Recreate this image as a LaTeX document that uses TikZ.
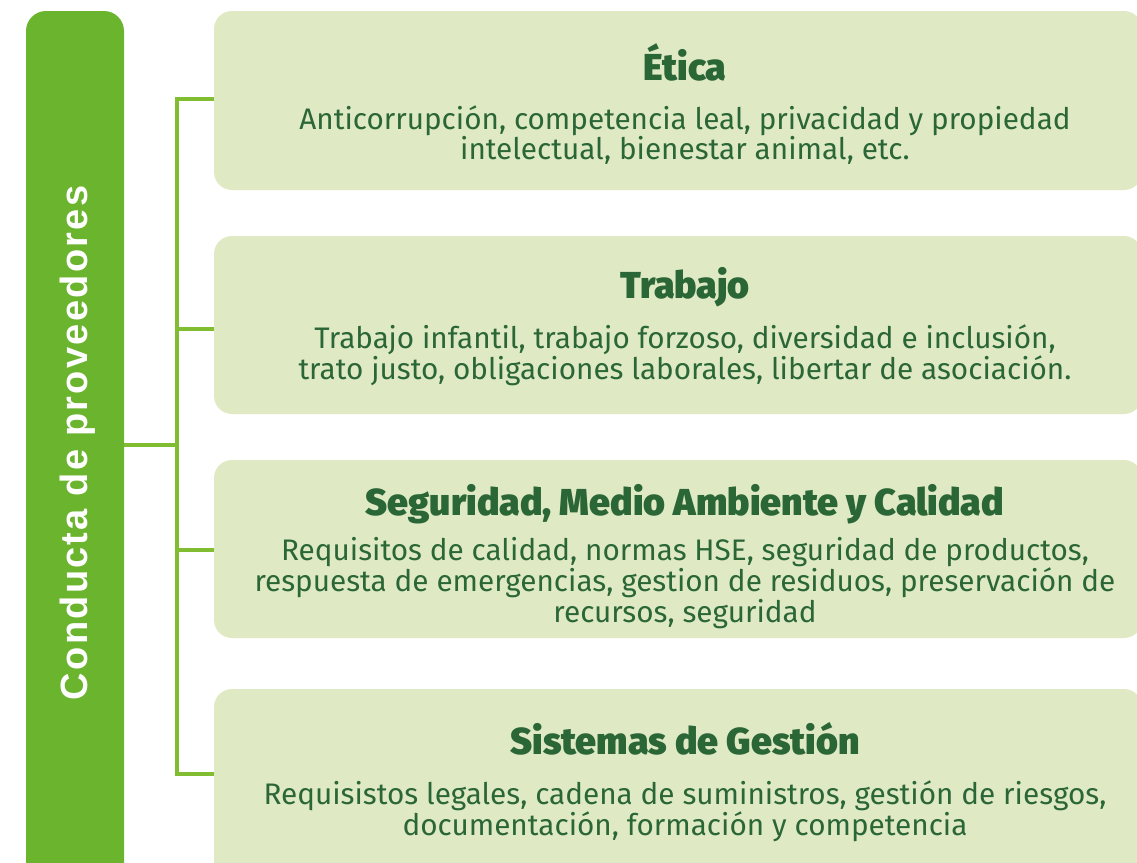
\documentclass[tikz,border=0pt]{standalone}
\usepackage{fontspec}
\setmainfont{Fira Sans}
\newfontfamily\bodyfont{Fira Sans}
\newfontfamily\titlefont{Fira Sans Black}
\newfontfamily\barfont{Liberation Sans}[LetterSpace=6]
\definecolor{bargreen}{HTML}{6AB42E}
\definecolor{linegreen}{HTML}{80BD30}
\definecolor{boxfill}{HTML}{DFEAC5}
\definecolor{textgreen}{HTML}{2B6637}
\tikzset{
  boxshape/.style={fill=boxfill, rounded corners=18pt, draw=none},
  conn/.style={draw=linegreen, line width=4pt},
  titletext/.style={anchor=base, text=textgreen, font=\titlefont\fontsize{37.5}{40}\selectfont, inner sep=0pt},
  bodytext/.style={anchor=center, text=textgreen, align=center, font=\bodyfont\fontsize{29.7}{29}\selectfont, inner sep=0pt},
}
\begin{document}
\begin{tikzpicture}[x=1pt,y=-1pt]
\useasboundingbox (0,0) rectangle (1137,862);
% left bar
\path[fill=bargreen, rounded corners=20pt] (26,11) rectangle (124,885);
\node (bar) at (75,11) [minimum width=98pt, minimum height=874pt, anchor=north, inner sep=0pt] {};
\node (bartext) at (78,443) [rotate=90, text=white, font=\barfont\bfseries\fontsize{38}{40}\selectfont, inner sep=0pt] {Conducta de proveedores};
% boxes
\path[boxshape] (214,11) rectangle (1142,190);
\path[boxshape] (214,236) rectangle (1142,414);
\path[boxshape] (214,460) rectangle (1142,638);
\path[boxshape] (214,689) rectangle (1142,900);
\node (box1) at (214,11) [anchor=north west, minimum width=928pt, minimum height=179pt, inner sep=0pt] {};
\node (box2) at (214,236) [anchor=north west, minimum width=928pt, minimum height=178pt, inner sep=0pt] {};
\node (box3) at (214,460) [anchor=north west, minimum width=928pt, minimum height=178pt, inner sep=0pt] {};
\node (box4) at (214,689) [anchor=north west, minimum width=928pt, minimum height=211pt, inner sep=0pt] {};
% texts
\node (t1) at (685,80) [titletext] {Ética};
\node (d1) at (685,135) [bodytext] {Anticorrupción, competencia leal, privacidad y propiedad\\intelectual, bienestar animal, etc.};
\node (t2) at (685,298) [titletext] {Trabajo};
\node (d2) at (685,355) [bodytext] {Trabajo infantil, trabajo forzoso, diversidad e inclusión,\\trato justo, obligaciones laborales, libertar de asociación.};
\node (t3) at (685,515) [titletext] {Seguridad, Medio Ambiente y Calidad};
\node (d3) at (685,583) [bodytext] {Requisitos de calidad, normas HSE, seguridad de productos,\\respuesta de emergencias, gestion de residuos, preservación de\\recursos, seguridad};
\node (t4) at (685,754) [titletext] {Sistemas de Gestión};
\node (d4) at (685,811) [bodytext] {Requisistos legales, cadena de suministros, gestión de riesgos,\\documentación, formación y competencia};
% connectors
\coordinate (j) at (177,445);
\coordinate (b1) at (214,99);
\coordinate (b2) at (214,329);
\coordinate (b3) at (214,550);
\coordinate (b4) at (214,774);
\draw[conn] (bar.east |- j) -- (j);
\draw[conn] (b1) -| (j);
\draw[conn] (b4) -| (j);
\draw[conn] (j |- b2) -- (b2);
\draw[conn] (j |- b3) -- (b3);
\end{tikzpicture}
\end{document}
